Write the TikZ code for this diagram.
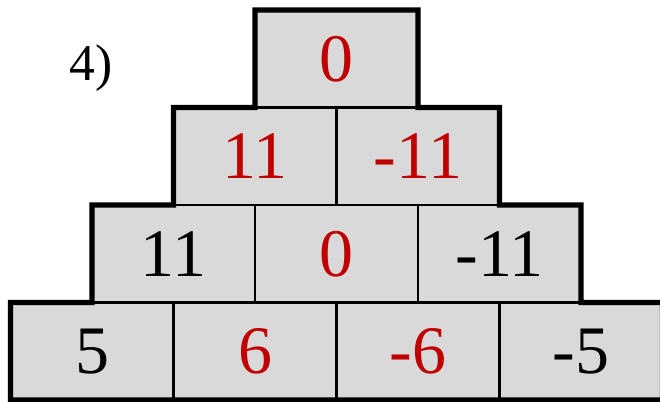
\documentclass[tikz,border=0pt]{standalone}
\usepackage{fontspec}
\setmainfont{Liberation Serif}
\usepackage{tikz}
\usetikzlibrary{positioning}
\definecolor{brickgray}{HTML}{D9D9D9}
\definecolor{answerred}{HTML}{C00000}
\tikzset{
  brick/.style={draw,line width=2pt,fill=brickgray,minimum width=4.89cm,
    minimum height=2.925cm,inner sep=0pt,outer sep=0pt,
    font=\fontsize{58}{60}\selectfont},
  given/.style={brick,text=black},
  found/.style={brick,text=answerred},
  rim/.style={line width=4.3pt,line join=miter},
  tag/.style={font=\fontsize{44}{46}\selectfont,inner sep=0pt},
}

\begin{document}
\begin{tikzpicture}[x=0.03cm,y=-0.03cm]
  \useasboundingbox (0,0) rectangle (660,402);
  % task number
  \node[tag] (nr) at (91,68) {4)};
  % top row
  \node[found] (r1c1) at (336.5,58.75) {0};
  % second row
  \node[found] (r2c1) at (255,156.25) {11};
  \node[found] (r2c2) at (418,156.25) {-11};
  % third row
  \node[given] (r3c1) at (173.5,253.75) {11};
  \node[found] (r3c2) at (336.5,253.75) {0};
  \node[given] (r3c3) at (499.5,253.75) {-11};
  % bottom row
  \node[given] (r4c1) at (92,351.25) {5};
  \node[found] (r4c2) at (255,351.25) {6};
  \node[found] (r4c3) at (418,351.25) {-6};
  \node[given] (r4c4) at (581,351.25) {-5};
  % thick outline
  \draw[rim] (r4c1.south west) -- (r4c1.north west) -- (r3c1.south west)
    -- (r3c1.north west) -- (r2c1.south west) -- (r2c1.north west)
    -- (r1c1.south west) -- (r1c1.north west) -- (r1c1.north east)
    -- (r1c1.south east) -- (r2c2.north east) -- (r2c2.south east)
    -- (r3c3.north east) -- (r3c3.south east) -- (r4c4.north east)
    -- (r4c4.south east) -- cycle;
\end{tikzpicture}
\end{document}
